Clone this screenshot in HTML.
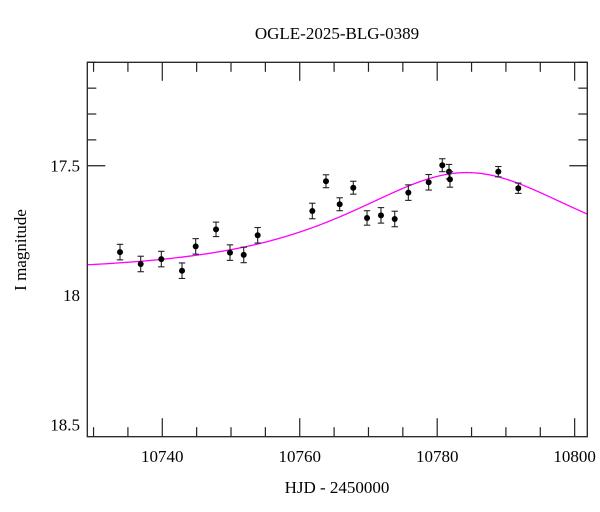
<!DOCTYPE html>
<html><head><meta charset="utf-8"><style>
body{margin:0;background:#fff}
svg{display:block;font-family:"Liberation Serif",serif}
</style></head><body>
<svg id="chart" width="600" height="512" viewBox="0 0 600 512">
<text x="337" y="39" text-anchor="middle" font-size="17">OGLE-2025-BLG-0389</text>
<text x="337" y="493" text-anchor="middle" font-size="17">HJD - 2450000</text>
<text x="0" y="0" transform="translate(26,250) rotate(-90)" text-anchor="middle" font-size="17">I magnitude</text>
<g id="ticks"></g>
<g id="curve"></g>
<g id="points"></g>
<rect x="87.3" y="62.3" width="500" height="374.4" fill="none" stroke="#222" stroke-width="1.3"/>
</svg>
<script>
const days=[10733.85,10736.86,10739.86,10742.87,10744.86,10747.82,10749.85,10751.85,10753.88,10761.83,10763.82,10765.81,10767.79,10769.79,10771.82,10773.82,10775.80,10778.76,10780.74,10781.72,10781.86,10788.89,10791.80];
const mags=[17.834,17.880,17.861,17.906,17.812,17.746,17.836,17.845,17.769,17.675,17.560,17.649,17.585,17.702,17.692,17.706,17.604,17.564,17.498,17.523,17.553,17.523,17.587];
const errs=[0.03,0.03,0.03,0.03,0.03,0.028,0.03,0.03,0.03,0.03,0.025,0.025,0.025,0.028,0.03,0.03,0.03,0.03,0.025,0.028,0.03,0.02,0.02];
const xTicks=[10740,10760,10780,10800];
const yTicks=[17.5,18,18.5];
const modelParams=[10784.3,0.9,22,17.91]; // t0, u0, tE, m0

const X0=10729.09,X1=10801.84,PX0=87.3,PX1=587.3;
const PY0=62.3,PY1=436.7,M0=17.1,M1=18.548;
const sx=d=>PX0+(d-X0)/(X1-X0)*(PX1-PX0);
const sy=m=>PY0+(m-M0)/(M1-M0)*(PY1-PY0);
const NS='http://www.w3.org/2000/svg';
function mk(tag,attrs,parent){const e=document.createElementNS(NS,tag);for(const k in attrs)e.setAttribute(k,attrs[k]);parent.appendChild(e);return e;}
const tg=document.getElementById('ticks');
// x ticks every 5 days, major every 20
for(let d=10730;d<=10800;d+=5){
  const x=sx(d);const major=(d%20===0);const L=major?18.5:9.5;
  const t1=mk('line',{x1:x,y1:PY1,x2:x,y2:PY1-L,stroke:'#222','stroke-width':1.2},tg);
  
  
  const t2=mk('line',{x1:x,y1:PY0,x2:x,y2:PY0+L,stroke:'#222','stroke-width':1.2},tg);
  
  
}
xTicks.forEach(v=>{
  const t=mk('text',{x:sx(v),y:462,'text-anchor':'middle','font-size':17},tg);
  t.textContent=String(v);
  
  
});
for(let i=2;i<=15;i++){
  const m=i/10+16;const y=sy(16+i/10);const mv=+(16+i/10).toFixed(1);
  if(mv<M0||mv>M1)continue;
  const major=Math.abs(mv*2-Math.round(mv*2))<1e-6;const L=major?18:9;
  const a=mk('line',{x1:PX0,y1:y,x2:PX0+L,y2:y,stroke:'#222','stroke-width':1.2},tg);
  
  
  const b=mk('line',{x1:PX1,y1:y,x2:PX1-L,y2:y,stroke:'#222','stroke-width':1.2},tg);
  
  
}
yTicks.forEach(v=>{
  const t=mk('text',{x:80,y:sy(v)+6,'text-anchor':'end','font-size':17},tg);
  t.textContent=String(v);
  
  
});
// model curve
const [t0,u0,tE,m0]=modelParams;
let dstr='';
for(let px=PX0;px<=PX1;px+=1){
  const t=X0+(px-PX0)/(PX1-PX0)*(X1-X0);
  const u=Math.sqrt(u0*u0+((t-t0)/tE)**2);
  const A=(u*u+2)/(u*Math.sqrt(u*u+4));
  const m=m0-2.5*Math.log10(A);
  dstr+=(dstr?'L':'M')+px.toFixed(1)+','+sy(m).toFixed(2);
}
const cv=mk('path',{d:dstr,fill:'none',stroke:'#ff00ff','stroke-width':1.3},document.getElementById('curve'));


// points
const pg=document.getElementById('points');
days.forEach((d,i)=>{
  const x=sx(d),y=sy(mags[i]),y1=sy(mags[i]-errs[i]),y2=sy(mags[i]+errs[i]);
  const g=mk('g',{},pg);
  
  
  mk('line',{x1:x,y1:y1,x2:x,y2:y2,stroke:'#222','stroke-width':1.1},g);
  mk('line',{x1:x-3.2,y1:y1,x2:x+3.2,y2:y1,stroke:'#222','stroke-width':1.1},g);
  mk('line',{x1:x-3.2,y1:y2,x2:x+3.2,y2:y2,stroke:'#222','stroke-width':1.1},g);
  mk('circle',{cx:x,cy:y,r:3,fill:'#000'},g);
});
</script>
</body></html>
